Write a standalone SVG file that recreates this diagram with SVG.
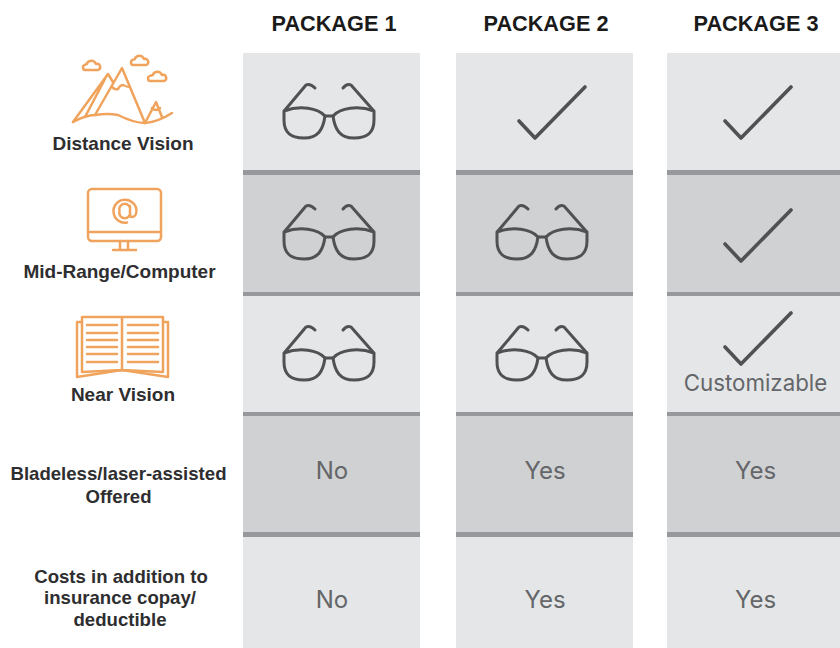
<svg xmlns="http://www.w3.org/2000/svg" xmlns:xlink="http://www.w3.org/1999/xlink" width="840" height="648" viewBox="0 0 840 648">
<style>
.h{font-size:21.700px;font-weight:700;fill:#1a1a1a;text-anchor:middle;font-family:"Liberation Sans",Arial,sans-serif}
.l{font-size:19px;font-weight:700;fill:#2e2e30;text-anchor:middle;font-family:"Liberation Sans",Arial,sans-serif}
.s{font-size:18.600px}
.v{font-size:24px;fill:#646669;text-anchor:middle;font-family:"Inter","Liberation Sans",sans-serif}
.a{fill:#e5e6e8}.b{fill:#d0d1d3}.r{fill:#97989b}
.o{fill:none;stroke:#f0a35c;stroke-width:2.500;stroke-linecap:round;stroke-linejoin:round}
.g{fill:none;stroke:#505153;stroke-width:3;stroke-linecap:round;stroke-linejoin:round}
.c{stroke-width:3.600}
</style>
<defs>
<g id="glasses" class="g">
<path d="M284 111C300 105 318 108 325 116C323 130 318 138 304 138C290 138 284 132 284 120Z"/>
<path d="M374 111C358 105 340 108 333 116C335 130 340 138 354 138C368 138 374 132 374 120Z"/>
<path d="M325 116H333M285 110L306 85Q310 83 315 88M373 110L351 85Q347 83 343 88"/>
</g>
<path id="check" class="g c" d="M519 121L535 138L585 87"/>
</defs>
<g id="column-1">
<rect class="a" x="243" y="53" width="177" height="117"/><rect class="r" x="243" y="170" width="177" height="5"/>
<rect class="b" x="243" y="175" width="177" height="117"/><rect class="r" x="243" y="292" width="177" height="4"/>
<rect class="a" x="243" y="296" width="177" height="116"/><rect class="r" x="243" y="412" width="177" height="4"/>
<rect class="b" x="243" y="416" width="177" height="116"/><rect class="r" x="243" y="532" width="177" height="5"/>
<rect class="a" x="243" y="537" width="177" height="111"/>
</g>
<g id="column-2">
<rect class="a" x="456" y="53" width="177" height="117"/><rect class="r" x="456" y="170" width="177" height="5"/>
<rect class="b" x="456" y="175" width="177" height="117"/><rect class="r" x="456" y="292" width="177" height="4"/>
<rect class="a" x="456" y="296" width="177" height="116"/><rect class="r" x="456" y="412" width="177" height="4"/>
<rect class="b" x="456" y="416" width="177" height="116"/><rect class="r" x="456" y="532" width="177" height="5"/>
<rect class="a" x="456" y="537" width="177" height="111"/>
</g>
<g id="column-3">
<rect class="a" x="667" y="53" width="173" height="117"/><rect class="r" x="667" y="170" width="173" height="5"/>
<rect class="b" x="667" y="175" width="173" height="117"/><rect class="r" x="667" y="292" width="173" height="4"/>
<rect class="a" x="667" y="296" width="173" height="116"/><rect class="r" x="667" y="412" width="173" height="4"/>
<rect class="b" x="667" y="416" width="173" height="116"/><rect class="r" x="667" y="532" width="173" height="5"/>
<rect class="a" x="667" y="537" width="173" height="111"/>
</g>
<g id="headers">
<text class="h" x="334" y="30.500">PACKAGE 1</text>
<text class="h" x="546" y="30.500">PACKAGE 2</text>
<text class="h" x="756" y="30.500">PACKAGE 3</text>
</g>
<g id="distance-vision">
<g class="o">
<path d="M73 122L108 74L113 82M95 115L122 68L145 123M85 117L105 79"/>
<path d="M112 87Q115 90 118 89Q120 85 123 85Q127 87 130 87"/>
<path d="M73 122Q86 115 95 115Q108 113 118 115Q134 123 145 123Q158 122 172 113"/>
<path d="M145 123L156 102L162 117M152 108Q154 110 156 110Q158 110 160 108"/>
<path d="M85 70H98Q101 69 100 66Q99 63 96 64Q94 60 90 61Q87 62 87 64Q83 65 83 67Q83 70 85 70Z"/>
<path d="M133 65H146Q149 64 148 61Q147 58 144 59Q142 55 138 56Q135 57 135 59Q131 60 131 62Q131 65 133 65Z"/>
<path d="M150 81H164Q167 80 166 77Q165 74 162 75Q160 71 156 72Q153 73 153 75Q148 76 148 78Q148 81 150 81Z"/>
</g>
<text class="l" x="123" y="150">Distance Vision</text>
</g>
<g id="mid-range">
<g class="o">
<rect x="88" y="189" width="73" height="52" rx="4"/>
<path d="M88 232H161M120 241V250M128 241V250M113 250H136"/>
<path d="M127 222.500A11.500 11.500 0 1 1 136.500 211Q136 217 132 217Q130 217 130 214V206M130 211A5.500 5.500 0 1 1 119.500 211A5.500 5.500 0 1 1 130 211"/>
</g>
<text class="l" x="119.500" y="278">Mid-Range/Computer</text>
</g>
<g id="near-vision">
<g class="o">
<path d="M82 322H77V377L122 370L168 377V322H163"/>
<path d="M82 317H122V370L82 372ZM122 317H163V372L122 370"/>
<path d="M87 325H117M87 333H117M87 340H117M87 347H117M87 354H117M87 362H117M128 325H158M128 333H158M128 340H158M128 347H158M128 354H158M128 362H158"/>
</g>
<text class="l" x="123" y="401">Near Vision</text>
</g>
<g id="bladeless">
<text class="l s" x="118.500" y="480">Bladeless/laser-assisted</text>
<text class="l s" x="118.500" y="503">Offered</text>
</g>
<g id="costs">
<text class="l s" x="121" y="583">Costs in addition to</text>
<text class="l s" x="120" y="604">insurance copay/</text>
<text class="l s" x="120" y="626">deductible</text>
</g>
<g id="cells">
<use xlink:href="#glasses"/>
<use xlink:href="#glasses" y="121"/>
<use xlink:href="#glasses" y="242"/>
<use xlink:href="#glasses" x="213" y="121"/>
<use xlink:href="#glasses" x="213" y="242"/>
<use xlink:href="#check"/>
<use xlink:href="#check" x="206"/>
<use xlink:href="#check" x="206" y="123"/>
<use xlink:href="#check" x="206" y="226"/>
<text class="v" x="755.500" y="391" style="font-size:22.300px">Customizable</text>
<text class="v" x="332" y="479">No</text>
<text class="v" x="545" y="479">Yes</text>
<text class="v" x="755.500" y="479">Yes</text>
<text class="v" x="332" y="608">No</text>
<text class="v" x="545" y="608">Yes</text>
<text class="v" x="755.500" y="608">Yes</text>
</g>
</svg>
